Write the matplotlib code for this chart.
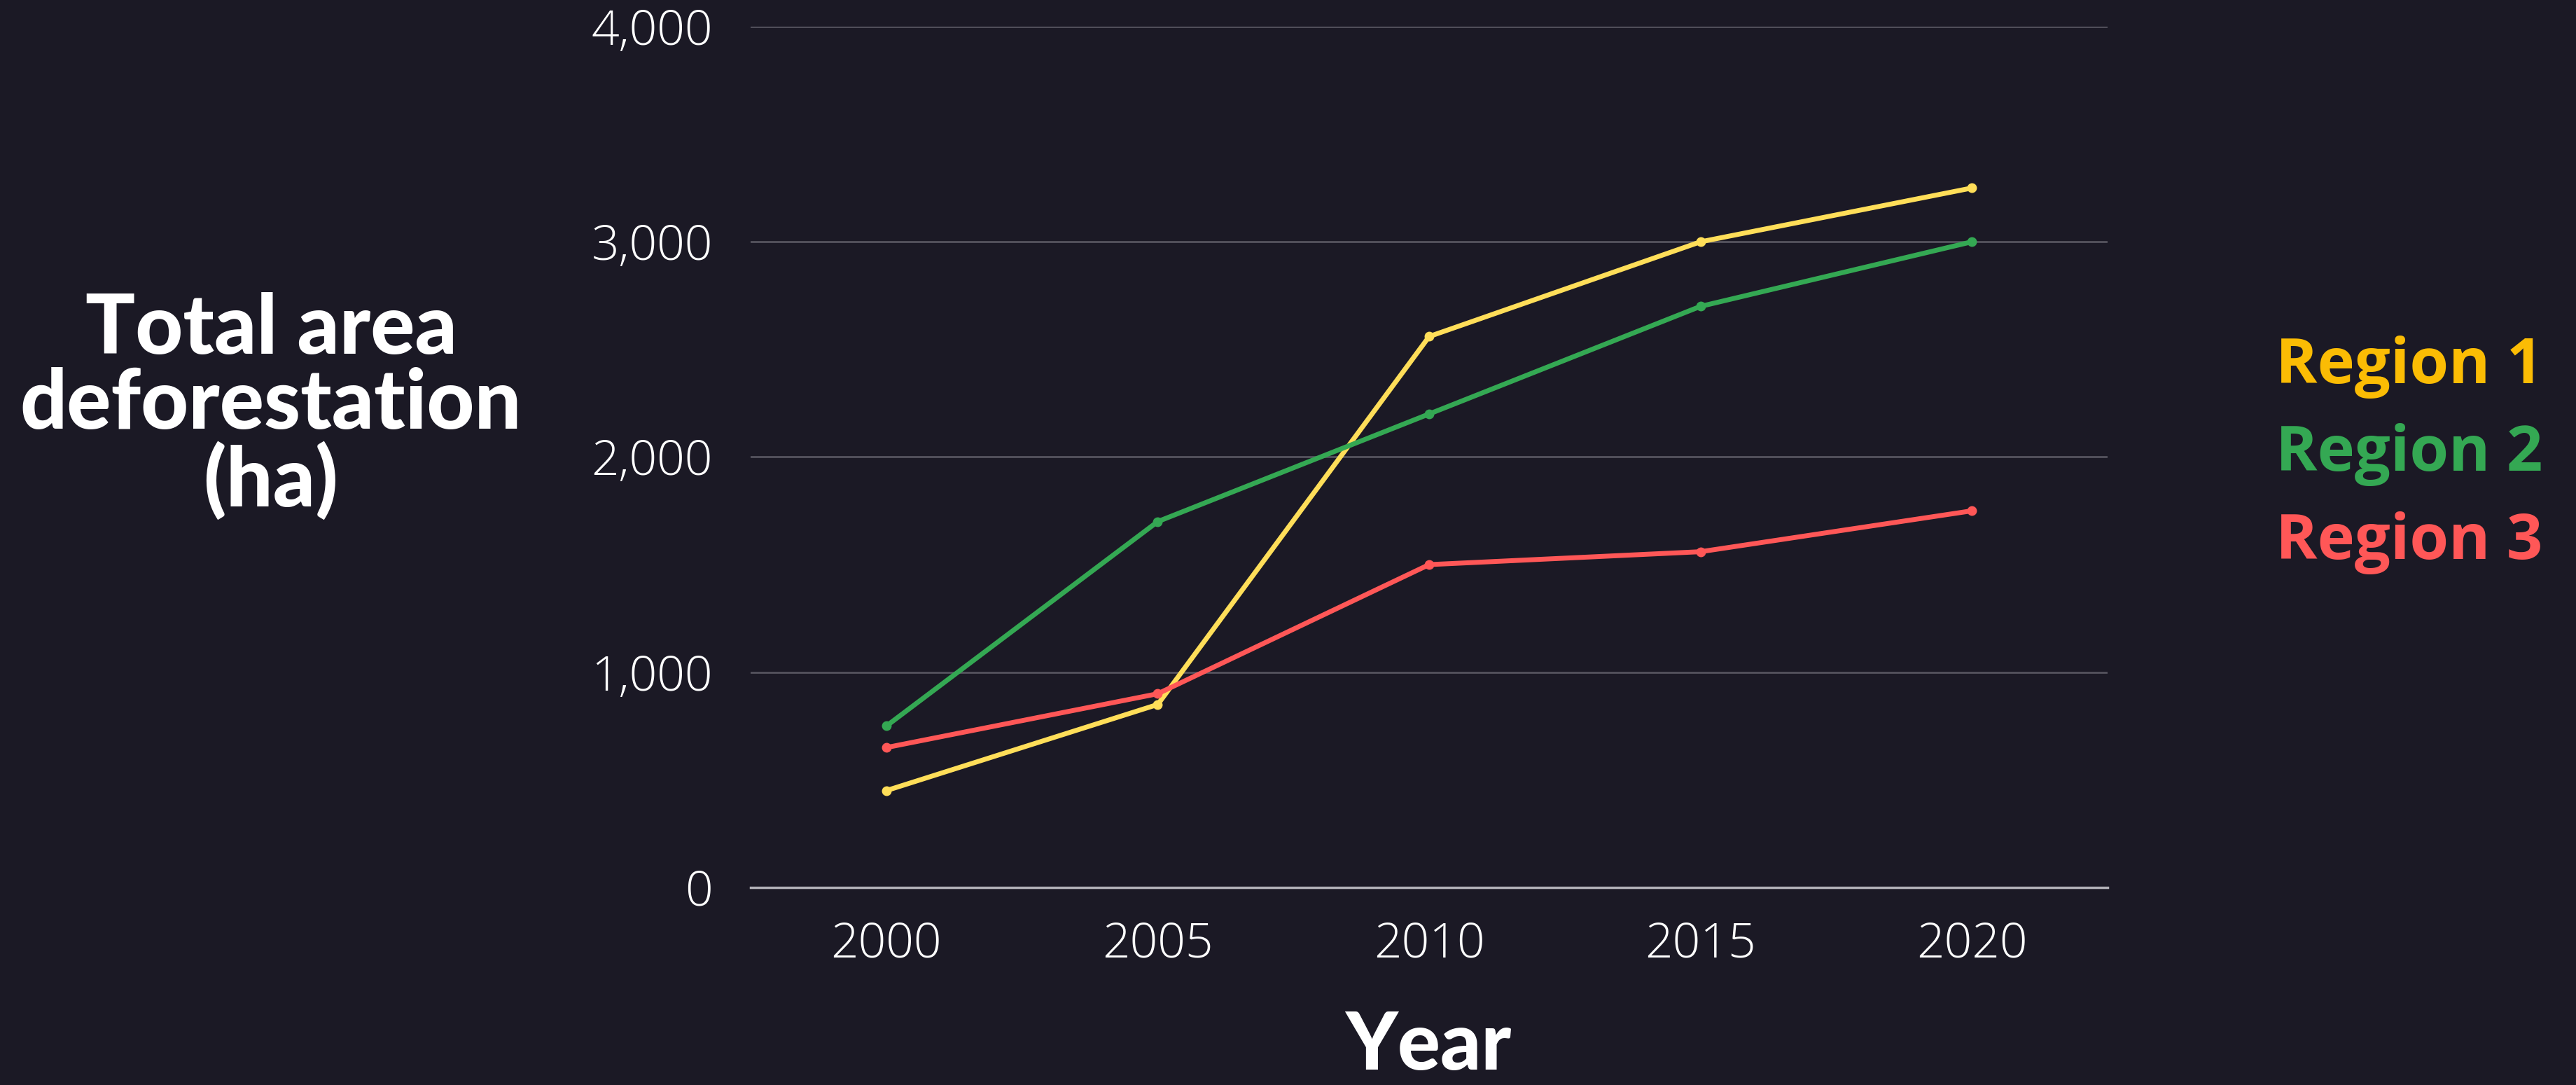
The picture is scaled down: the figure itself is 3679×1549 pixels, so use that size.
import matplotlib.pyplot as plt
from matplotlib.ticker import FuncFormatter

years = [2000, 2005, 2010, 2015, 2020]
region1 = [450, 850, 2560, 3000, 3250]
region2 = [750, 1700, 2200, 2700, 3000]
region3 = [650, 900, 1500, 1560, 1750]
series_names = ['Region 1', 'Region 2', 'Region 3']
y_ticks = [0, 1000, 2000, 3000, 4000]

bg = '#1b1925'
line_colors = ['#ffde59', '#34a853', '#ff5757']
label_colors = ['#fbbc04', '#34a853', '#ff5757']

fig = plt.figure(figsize=(36.79, 15.49), dpi=100, facecolor=bg)
ax = fig.add_axes([0.2914, 0.1821, 0.5268, 0.7934])
ax.set_facecolor(bg)

for vals, c in zip([region1, region2, region3], line_colors):
    ax.plot(years, vals, color=c, linewidth=5, marker='o', markersize=9,
            solid_capstyle='round', zorder=3)

ax.set_xlim(1997.5, 2022.5)
ax.set_ylim(0, 4000)
ax.set_xticks(years)
ax.set_yticks(y_ticks)
ax.yaxis.set_major_formatter(FuncFormatter(lambda v, p: f'{int(v):,}'))

ax.grid(axis='y', color='#55535e', linewidth=2)
ax.set_axisbelow(True)
for s in ['top', 'right', 'left']:
    ax.spines[s].set_visible(False)
ax.spines['bottom'].set_color('#b0afb6')
ax.spines['bottom'].set_linewidth(2.5)
ax.tick_params(length=0, labelcolor='white', labelsize=50)
ax.tick_params(axis='y', pad=39)
ax.tick_params(axis='x', pad=34)
for lab in ax.get_xticklabels() + ax.get_yticklabels():
    lab.set_fontfamily('Open Sans')
    lab.set_fontweight('light')

fig.text(0.1052, 0.6256, 'Total area\ndeforestation\n(ha)', color='white',
         fontsize=85, fontfamily='Lato', fontweight='black',
         ha='center', va='center', linespacing=0.98)
fig.text(0.5545, 0.002, 'Year', color='white', fontsize=82,
         fontfamily='Lato', fontweight='black', ha='center', va='bottom')

for name, c, yy in zip(series_names, label_colors, [0.6469, 0.5662, 0.4848]):
    fig.text(0.8835, yy, name, color=c, fontsize=65, fontfamily='Open Sans',
             fontweight='bold', ha='left', va='baseline')

fig.savefig('out.png', dpi=100, facecolor=bg)
